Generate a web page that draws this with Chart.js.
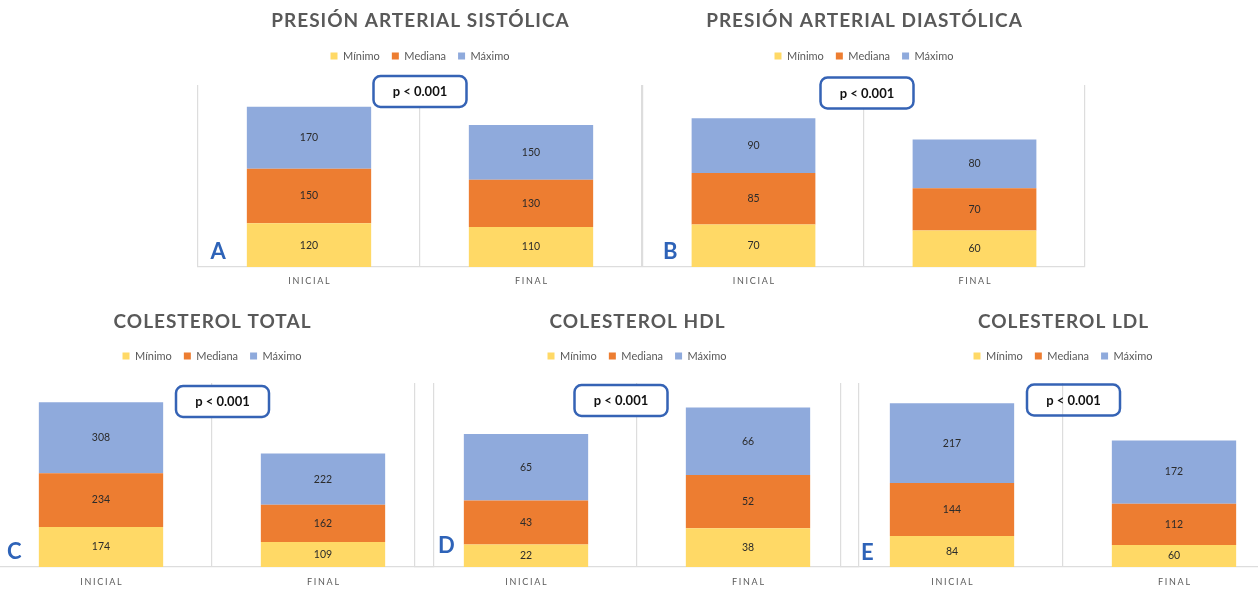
<!DOCTYPE html>
<html>
<head>
<meta charset="utf-8">
<script src="https://cdn.jsdelivr.net/npm/chart.js@4.4.1/dist/chart.umd.min.js"></script>
<style>
  html, body { margin: 0; padding: 0; background: #fff; width: 1258px; height: 590px; overflow: hidden; position: relative; }
  .panel { position: absolute; }
</style>
</head>
<body>
<div class="panel" style="left:195.5px; top:0; width:448px; height:295px"><canvas id="chartA"></canvas></div>
<div class="panel" style="left:641px; top:0; width:446px; height:295px"><canvas id="chartB"></canvas></div>
<div class="panel" style="left:-12px; top:300px; width:448px; height:290px"><canvas id="chartC"></canvas></div>
<div class="panel" style="left:413px; top:300px; width:448px; height:290px"><canvas id="chartD"></canvas></div>
<div class="panel" style="left:839px; top:300px; width:448px; height:290px"><canvas id="chartE"></canvas></div>
<script>
// Data
const categories = ['INICIAL', 'FINAL'];
const seriesNames = ['Mínimo', 'Mediana', 'Máximo'];
const seriesColors = ['#FFD966', '#ED7D31', '#8FAADC'];

const sistolicaMin = [120, 110];
const sistolicaMed = [150, 130];
const sistolicaMax = [170, 150];

const diastolicaMin = [70, 60];
const diastolicaMed = [85, 70];
const diastolicaMax = [90, 80];

const totalMin = [174, 109];
const totalMed = [234, 162];
const totalMax = [308, 222];

const hdlMin = [22, 38];
const hdlMed = [43, 52];
const hdlMax = [65, 66];

const ldlMin = [84, 60];
const ldlMed = [144, 112];
const ldlMax = [217, 172];

const pText = 'p < 0.001';

Chart.defaults.font.family = "Lato, 'Open Sans', sans-serif";
Chart.defaults.color = '#595959';

// Draws the spaced title, value labels, category names, panel letter and p-value box
const panelDecor = {
  id: 'panelDecor',
  afterDatasetsDraw(chart) {
    const ctx = chart.ctx;
    ctx.save();
    ctx.font = "10.5px Lato";
    ctx.fillStyle = '#2b2b2b';
    ctx.textAlign = 'center';
    ctx.textBaseline = 'middle';
    chart.data.datasets.forEach((ds, di) => {
      const meta = chart.getDatasetMeta(di);
      meta.data.forEach((bar, i) => {
        const p = bar.getProps(['x', 'y', 'base'], true);
        ctx.fillText(String(ds.data[i]), p.x, (p.y + p.base) / 2);
      });
    });
    ctx.restore();
  },
  afterDraw(chart, args, opts) {
    const ctx = chart.ctx;
    const area = chart.chartArea;
    const xScale = chart.scales.x;
    const mid = (area.left + area.right) / 2;
    ctx.save();

    // title with letter spacing (Chart.js title can't space letters)
    ctx.font = "bold 19px Lato";
    ctx.fillStyle = '#595959';
    ctx.textAlign = 'center';
    ctx.textBaseline = 'middle';
    ctx.letterSpacing = '1px';
    ctx.fillText(opts.title, mid + 0.5, opts.titleY);

    // category labels, spaced out like the original
    ctx.font = "9px Lato";
    ctx.letterSpacing = '1.7px';
    chart.data.labels.forEach((lab, i) => {
      ctx.fillText(lab, xScale.getPixelForValue(i) + 0.85, area.bottom + opts.labelGap);
    });
    ctx.letterSpacing = '0px';

    // panel letter
    ctx.font = "bold 22px Lato";
    ctx.fillStyle = '#2E63B8';
    ctx.textAlign = 'left';
    ctx.textBaseline = 'alphabetic';
    ctx.fillText(opts.letter, area.left + opts.letterDx, area.bottom + opts.letterDy);

    // p-value box
    const cx = mid + opts.boxDx;
    const cy = area.top + opts.boxDy;
    const w = 93, h = 31;
    ctx.beginPath();
    ctx.roundRect(cx - w / 2, cy - h / 2, w, h, 7);
    if (opts.boxFill) {
      ctx.fillStyle = '#ffffff';
      ctx.fill();
    }
    ctx.lineWidth = 2.5;
    ctx.strokeStyle = '#3563B5';
    ctx.stroke();
    ctx.font = "bold 13px Lato";
    ctx.fillStyle = '#111111';
    ctx.textAlign = 'center';
    ctx.textBaseline = 'middle';
    ctx.fillText(pText, cx, cy + 0.5);

    ctx.restore();
  }
};

function makeChart(id, title, mins, meds, maxs, yMax, row, decor) {
  const rowCfg = row === 0
    ? { gap: 12.5, bottom: 28, titleY: 20.4 }
    : { gap: 10.5, bottom: 23, titleY: 22 };
  decor.title = title;
  decor.titleY = rowCfg.titleY;

  return new Chart(document.getElementById(id), {
    type: 'bar',
    data: {
      labels: categories,
      datasets: [
        { label: seriesNames[0], data: mins, backgroundColor: seriesColors[0] },
        { label: seriesNames[1], data: meds, backgroundColor: seriesColors[1] },
        { label: seriesNames[2], data: maxs, backgroundColor: seriesColors[2] }
      ]
    },
    options: {
      responsive: true,
      maintainAspectRatio: false,
      animation: false,
      events: [],
      layout: { padding: { left: 2, right: 2, top: 38.5, bottom: rowCfg.bottom } },
      datasets: {
        bar: { categoryPercentage: 1, barPercentage: 0.56, borderWidth: 0 }
      },
      scales: {
        x: {
          stacked: true,
          grid: { offset: true, color: '#DDDDDD', lineWidth: 1.2, drawTicks: false },
          border: { color: '#DDDDDD', width: 1.2 },
          ticks: { display: false }
        },
        y: {
          stacked: true,
          display: false,
          min: 0,
          max: yMax
        }
      },
      plugins: {
        title: { display: false },
        legend: {
          display: true,
          position: 'top',
          labels: {
            boxWidth: 7,
            boxHeight: 7,
            padding: 12,
            color: '#595959',
            font: { size: 11 }
          }
        },
        subtitle: {
          display: true,
          text: '',
          weight: 500,
          font: { size: 1, lineHeight: 1 },
          padding: { top: rowCfg.gap, bottom: 0 }
        },
        tooltip: { enabled: false },
        panelDecor: decor
      }
    },
    plugins: [panelDecor]
  });
}

makeChart('chartA', 'PRESIÓN ARTERIAL SISTÓLICA', sistolicaMin, sistolicaMed, sistolicaMax, 500, 0,
  { letter: 'A', letterDx: 12.5, letterDy: -8, boxDx: 0, boxDy: 6.5, boxFill: true, labelGap: 14 });
makeChart('chartB', 'PRESIÓN ARTERIAL DIASTÓLICA', diastolicaMin, diastolicaMed, diastolicaMax, 300, 0,
  { letter: 'B', letterDx: 20, letterDy: -8, boxDx: 3, boxDy: 8, boxFill: true, labelGap: 14 });
makeChart('chartC', 'COLESTEROL TOTAL', totalMin, totalMed, totalMax, 800, 1,
  { letter: 'C', letterDx: 17, letterDy: -8, boxDx: 10.5, boxDy: 18.5, boxFill: true, labelGap: 15 });
makeChart('chartD', 'COLESTEROL HDL', hdlMin, hdlMed, hdlMax, 180, 1,
  { letter: 'D', letterDx: 23, letterDy: -14, boxDx: -16, boxDy: 17.5, boxFill: true, labelGap: 15 });
makeChart('chartE', 'COLESTEROL LDL', ldlMin, ldlMed, ldlMax, 500, 1,
  { letter: 'E', letterDx: 20, letterDy: -7, boxDx: 10.5, boxDy: 17, boxFill: false, labelGap: 15 });
</script>
</body>
</html>
